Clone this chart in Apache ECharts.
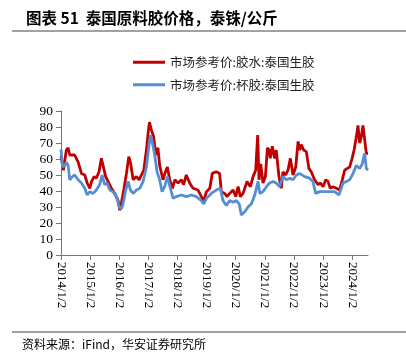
<!DOCTYPE html>
<html><head><meta charset="utf-8">
<script src="https://cdn.jsdelivr.net/npm/echarts@6/dist/echarts.min.js"></script>
<style>html,body{margin:0;padding:0;background:#fff}#c{width:406px;height:357px}</style>
</head><body><div id="c"></div>
<script>
const titleText = '图表 51  泰国原料胶价格，泰铢/公斤';
const sourceText = '资料来源：iFind，华安证券研究所';
const seriesNames = ['市场参考价:胶水:泰国生胶', '市场参考价:杯胶:泰国生胶'];
const tickYears = [2014,2015,2016,2017,2018,2019,2020,2021,2022,2023,2024];
const tickLabelSuffix = '/1/2';

const redDates = ['2014-01-02','2014-02-01','2014-02-20','2014-03-10','2014-04-01','2014-04-22','2014-05-12','2014-06-23','2014-08-05','2014-09-15','2014-10-27','2014-11-26','2014-12-29',
'2015-01-20','2015-02-22','2015-03-21','2015-04-24','2015-05-23','2015-06-13','2015-07-16','2015-08-15','2015-09-26','2015-11-07','2015-12-19',
'2016-01-10','2016-01-31','2016-02-28','2016-04-02','2016-05-01','2016-05-22','2016-06-25','2016-08-05','2016-09-08','2016-10-07','2016-11-06','2016-12-09','2016-12-30',
'2017-01-16','2017-02-10','2017-03-10','2017-04-04','2017-05-03','2017-05-24','2017-07-05','2017-08-04','2017-08-29','2017-09-27','2017-11-01','2017-11-30',
'2018-01-10','2018-02-21','2018-03-20','2018-04-23','2018-06-04','2018-07-16','2018-09-17','2018-10-29','2018-11-28',
'2019-01-01','2019-02-12','2019-03-15','2019-05-04','2019-06-15','2019-07-06','2019-08-17','2019-09-16','2019-10-19','2019-12-01',
'2020-01-03','2020-02-02','2020-03-01','2020-04-04','2020-05-24','2020-07-05','2020-08-08','2020-09-10','2020-10-05','2020-10-22','2020-11-12','2020-12-11',
'2021-01-10','2021-02-04','2021-02-25','2021-03-12','2021-04-06','2021-05-05','2021-05-26','2021-06-29','2021-07-28','2021-08-18','2021-09-21','2021-10-20','2021-11-19','2021-12-22',
'2022-01-25','2022-02-24','2022-03-15','2022-04-05','2022-05-04','2022-06-07','2022-07-10','2022-08-08','2022-09-19','2022-11-01','2022-11-30',
'2023-01-03','2023-02-05','2023-03-05','2023-04-03','2023-05-07','2023-06-18','2023-07-29','2023-09-01','2023-10-01','2023-10-30','2023-12-03',
'2024-01-02','2024-01-27','2024-02-25','2024-03-16','2024-04-06','2024-04-27','2024-05-18','2024-06-08','2024-06-29','2024-07-20'];
const redValues = [62,53,52,65.6,67,62.5,63.5,62.5,58,51,50,45,41.7,
46,49,48,52,60.4,56,49,46,41.7,38.5,34,
28,33,40.6,51,61.5,58,47,49,47,50,53,65.6,76,
83,78,74,62.5,67,56,47,52,55,47,41.7,47,
45,47,44,50,45,41.7,40.6,36.5,34,
39.6,41.7,51,52,51,39.6,38.5,36.5,38.5,40.6,
36.5,42.7,36.5,38.5,46,42.7,49,53,75,47,57,45,
49,67,65.6,60.4,68,60.4,65.6,49,41.7,52,50,53,60.4,50,
55,71,65.6,69,65.6,64.6,54,52,47,44,45,
42.7,47,46,41.7,42.7,41.7,40.6,47,53,54,55,
60.4,65.6,74,81,70,74,81,82,63.5,63.5];

const blueDates = ['2014-01-02','2014-01-22','2014-02-20','2014-03-10','2014-04-01','2014-04-22','2014-05-25','2014-06-23','2014-08-05','2014-09-15','2014-10-27','2014-11-26','2014-12-29',
'2015-02-10','2015-03-21','2015-05-02','2015-06-01','2015-07-04','2015-08-03','2015-09-06','2015-10-17','2015-11-28',
'2016-01-02','2016-01-31','2016-02-20','2016-03-24','2016-04-23','2016-05-22','2016-06-25','2016-08-05','2016-09-17','2016-10-29','2016-12-09',
'2017-01-08','2017-01-29','2017-02-23','2017-03-23','2017-04-21','2017-05-24','2017-06-23','2017-07-26','2017-08-29','2017-10-06','2017-11-09','2017-12-20',
'2018-02-21','2018-04-23','2018-06-25','2018-08-27','2018-10-29','2018-11-28',
'2019-01-01','2019-03-03','2019-05-04','2019-06-24','2019-07-27','2019-09-08','2019-10-19','2019-12-01',
'2020-01-12','2020-02-15','2020-03-14','2020-04-25','2020-06-06','2020-07-18','2020-08-29','2020-10-10','2020-10-31','2020-12-11',
'2021-01-23','2021-03-04','2021-04-15','2021-05-26','2021-07-08','2021-08-18','2021-09-30','2021-11-11','2021-12-22',
'2022-02-03','2022-03-15','2022-05-16','2022-07-18','2022-08-29','2022-10-02','2022-11-22',
'2023-01-24','2023-03-26','2023-05-27','2023-07-21','2023-09-10','2023-10-21','2023-12-03',
'2024-01-14','2024-02-25','2024-04-06','2024-05-09','2024-06-08','2024-06-29','2024-07-20'];
const blueValues = [66,55,56,58,56,47,49,50,47,45,41.7,37.5,39.6,
38.5,40.6,44,50,44,45,40.6,39.6,36.5,
30,29,32,40.6,46,40.6,38.5,40.6,41.7,46,55,
67.7,75,70,62.5,52,47,39.6,42.7,49,41.7,35.4,36.5,
37.5,36.5,37.5,36.5,34,32,
35.4,38.5,40.6,41.7,34,31,34,33,
34,32,25,27,30,32,37.5,46,38.5,39.6,
42.7,45,46,45,42.7,49,47,48,47,
50,51,49,48,46,38.5,39.6,
39.6,39.6,39.6,37.5,45,46,47,
51,56,54,57,63.5,54,53];

function decYear(s){
  const [y,m,d] = s.split('-').map(Number);
  const t = Date.UTC(y,m-1,d), t0 = Date.UTC(y,0,2), t1 = Date.UTC(y+1,0,2);
  return y + (t - t0)/(t1 - t0);
}
const redData = redDates.map((d,i)=>[decYear(d), redValues[i]]);
const blueData = blueDates.map((d,i)=>[decYear(d), blueValues[i]]);
const xMax = decYear(redDates[redDates.length-1]);

const chart = echarts.init(document.getElementById('c'), null, {renderer:'canvas'});
const serif = '"Liberation Serif","Times New Roman",serif';
const cjk = '"Noto Sans CJK SC","Noto Sans",sans-serif';
chart.setOption({
  animation:false,
  backgroundColor:'#fff',
  title:{text:titleText, left:21, top:5, textStyle:{fontFamily:cjk, fontSize:15.5, fontWeight:'bold', color:'#000'}},
  legend:{orient:'vertical', left:128, top:51, itemWidth:32, itemHeight:3, itemGap:10,
    icon:'rect',
    textStyle:{fontFamily:cjk, fontSize:12.5, color:'#222'},
    data:seriesNames},
  grid:{left:61, right:38, top:111, bottom:102, containLabel:false},
  xAxis:{type:'value', min:2014, max:xMax,
    splitLine:{show:false},
    axisLine:{lineStyle:{color:'#777', width:1}},
    axisTick:{show:true, length:5, lineStyle:{color:'#777'}, customValues:tickYears},
    axisLabel:{customValues:tickYears, rotate:-90, margin:7, fontFamily:serif, fontSize:13, color:'#000',
      formatter:v=>Math.round(v)+tickLabelSuffix}},
  yAxis:{type:'value', min:0, max:90, interval:10,
    splitLine:{show:false},
    axisLine:{show:true, lineStyle:{color:'#777', width:1}},
    axisTick:{show:true, length:5, lineStyle:{color:'#777'}},
    axisLabel:{fontFamily:serif, fontSize:13.5, color:'#000', margin:8}},
  series:[
    {name:seriesNames[0], type:'line', data:redData, showSymbol:false, symbol:'none',
      lineStyle:{color:'#C00000', width:2.8}, itemStyle:{color:'#C00000'}, z:2},
    {name:seriesNames[1], type:'line', data:blueData, showSymbol:false, symbol:'none',
      lineStyle:{color:'#558ED5', width:2.8}, itemStyle:{color:'#558ED5'}, z:3}
  ],
  graphic:[
    {type:'line', shape:{x1:12,y1:31,x2:406,y2:31}, style:{stroke:'#444', lineWidth:1}},
    {type:'line', shape:{x1:12,y1:332,x2:406,y2:332}, style:{stroke:'#444', lineWidth:1}},
    {type:'text', left:22, top:338, style:{text:sourceText, font:'12px '+cjk, fill:'#000'}}
  ]
});
</script></body></html>
